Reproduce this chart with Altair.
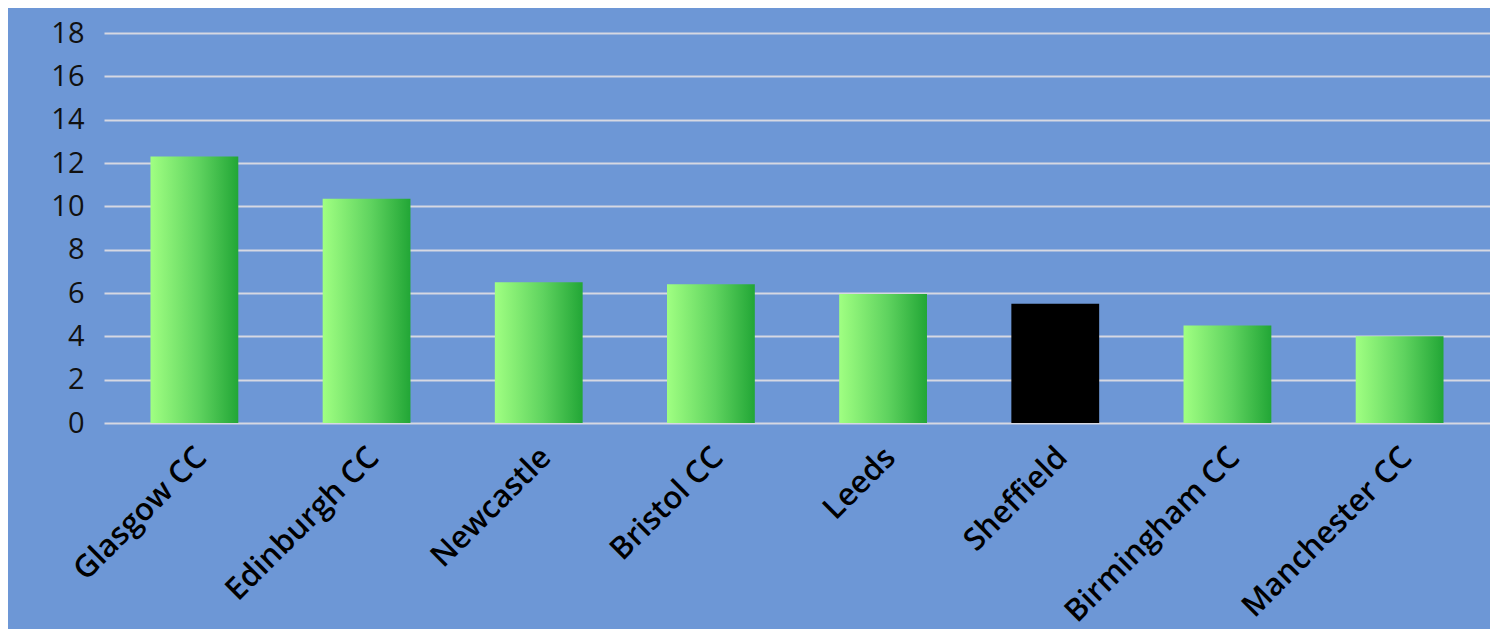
import altair as alt
import pandas as pd

cities = ["Glasgow CC", "Edinburgh CC", "Newcastle", "Bristol CC", "Leeds",
          "Sheffield", "Birmingham CC", "Manchester CC"]
values = [12.3, 10.35, 6.5, 6.4, 5.95, 5.5, 4.5, 4.0]
highlight = "Sheffield"
y_ticks = [0, 2, 4, 6, 8, 10, 12, 14, 16, 18]

df = pd.DataFrame({"city": cities, "value": values})

x_enc = alt.X("city:N", sort=cities, title=None,
              scale=alt.Scale(paddingInner=0.49, paddingOuter=0.27),
              axis=alt.Axis(labelAngle=-45, labelFont="Open Sans", labelFontWeight=600,
                            labelFontSize=31, labelColor="#000000", labelPadding=19,
                            labelOffset=-3, labelLimit=0, labelOverlap=False,
                            domain=False, ticks=False, tickSize=0, grid=False,
                            labelAlign="right", labelBaseline="top"))
y_enc = alt.Y("value:Q", title=None,
              scale=alt.Scale(domain=[0, 18], nice=False),
              axis=alt.Axis(values=y_ticks, labelFont="Open Sans", labelFontWeight=400,
                            labelFontSize=29, labelColor="#111111", labelPadding=20,
                            domain=False, ticks=False, tickSize=0, grid=True,
                            gridColor="#d6d8e2", gridWidth=2, gridOpacity=1))

green = alt.Gradient(gradient="linear",
                     stops=[alt.GradientStop(color="#a0ff82", offset=0),
                            alt.GradientStop(color="#5fd35f", offset=0.55),
                            alt.GradientStop(color="#22a636", offset=1)],
                     x1=0, x2=1, y1=0, y2=0)

base = alt.Chart(df)
bars = base.transform_filter(alt.datum.city != highlight).mark_bar(color=green).encode(x=x_enc, y=y_enc)
black = base.transform_filter(alt.datum.city == highlight).mark_bar(color="#000000").encode(x=x_enc, y=y_enc)

chart = alt.layer(bars, black).properties(
    width=1386, height=390,
    background="#6d97d6",
    padding={"left": 96, "top": 25, "right": 0, "bottom": 206},
    autosize=alt.AutoSizeParams(type="none"),
).configure_view(stroke=None)

chart.save("out.html", embed_options={"renderer": "svg", "actions": False})
